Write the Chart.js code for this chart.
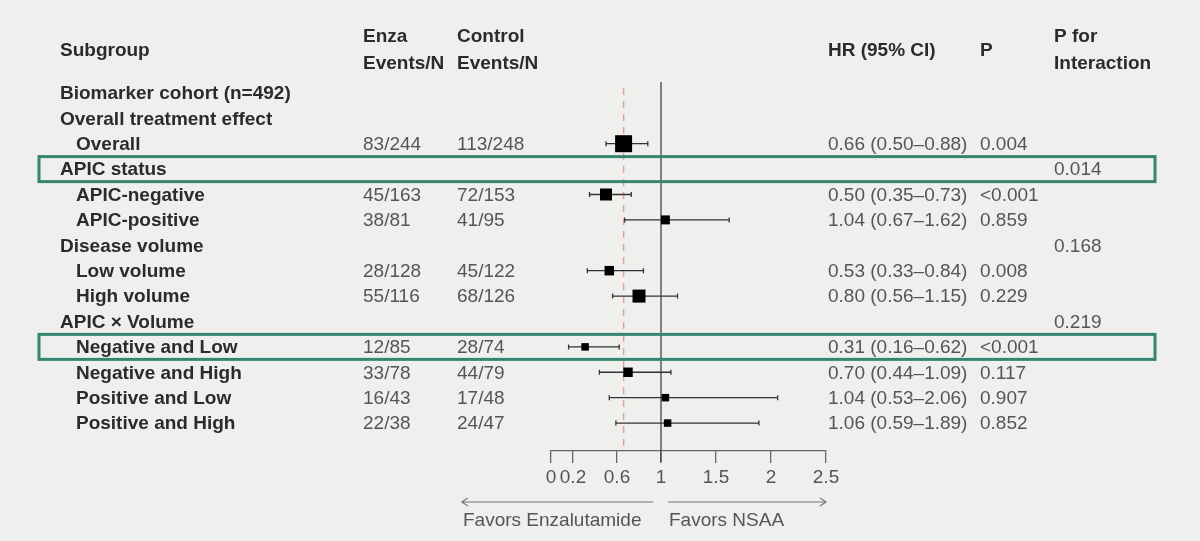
<!DOCTYPE html>
<html>
<head>
<meta charset="utf-8">
<script src="https://cdn.jsdelivr.net/npm/chart.js@4"></script>
<style>
  html, body { margin: 0; padding: 0; background: #efefed; }
  #wrap { width: 1200px; height: 541px; position: relative; }
</style>
</head>
<body>
<div id="wrap"><canvas id="forest" width="1200" height="541"></canvas></div>
<script>
// rows of the table, top to bottom
const subgroups = ['Biomarker cohort (n=492)', 'Overall treatment effect', 'Overall', 'APIC status',
    'APIC-negative', 'APIC-positive', 'Disease volume', 'Low volume', 'High volume', 'APIC × Volume',
    'Negative and Low', 'Negative and High', 'Positive and Low', 'Positive and High'];
const indented = [false, false, true, false, true, true, false, true, true, false, true, true, true, true];
const enzaEvents = ['', '', '83/244', '', '45/163', '38/81', '', '28/128', '55/116', '', '12/85', '33/78', '16/43', '22/38'];
const controlEvents = ['', '', '113/248', '', '72/153', '41/95', '', '45/122', '68/126', '', '28/74', '44/79', '17/48', '24/47'];
const hr = [null, null, 0.66, null, 0.50, 1.04, null, 0.53, 0.80, null, 0.31, 0.70, 1.04, 1.06];
const ciLow = [null, null, 0.50, null, 0.35, 0.67, null, 0.33, 0.56, null, 0.16, 0.44, 0.53, 0.59];
const ciHigh = [null, null, 0.88, null, 0.73, 1.62, null, 0.84, 1.15, null, 0.62, 1.09, 2.06, 1.89];
const pValues = ['', '', '0.004', '', '<0.001', '0.859', '', '0.008', '0.229', '', '<0.001', '0.117', '0.907', '0.852'];
const pInteraction = ['', '', '', '0.014', '', '', '0.168', '', '', '0.219', '', '', '', ''];
const boxSize = [0, 0, 17, 0, 12, 9, 0, 9.5, 13, 0, 7.5, 9.5, 7.5, 7.5]; // square side, px
const xTicks = [0, 0.2, 0.6, 1, 1.5, 2, 2.5];
const highlightRows = [3, 10];

const FONT = "'Liberation Sans', Arial, sans-serif";
const FS = 19;

const points = [];
const radii = [];
hr.forEach((v, i) => {
    if (v === null) return;
    points.push({ x: v, y: i, lo: ciLow[i], hi: ciHigh[i] });
    radii.push(boxSize[i] / Math.SQRT2);
});

function fmt(v) { return v.toFixed(2); }

// background
const bgPlugin = {
    id: 'bg',
    beforeDraw(chart) {
        const c = chart.ctx;
        c.save();
        c.fillStyle = '#efefed';
        c.fillRect(0, 0, chart.width, chart.height);
        c.restore();
    }
};

// reference lines + CI whiskers
const ciPlugin = {
    id: 'ci',
    beforeDatasetsDraw(chart) {
        const c = chart.ctx, xs = chart.scales.x, ys = chart.scales.y, a = chart.chartArea;
        c.save();
        // dashed line at overall HR
        c.strokeStyle = '#e0a49a';
        c.lineWidth = 1.5;
        c.setLineDash([7, 6]);
        c.beginPath();
        c.moveTo(xs.getPixelForValue(hr[2]), a.top + 6);
        c.lineTo(xs.getPixelForValue(hr[2]), a.bottom - 3);
        c.stroke();
        c.setLineDash([]);
        // line of no effect
        c.strokeStyle = '#444';
        c.lineWidth = 1.3;
        c.beginPath();
        c.moveTo(xs.getPixelForValue(1), a.top);
        c.lineTo(xs.getPixelForValue(1), a.bottom + 11);
        c.stroke();
        // whiskers
        c.strokeStyle = '#333';
        c.lineWidth = 1.3;
        points.forEach(p => {
            const y = ys.getPixelForValue(p.y);
            const x1 = xs.getPixelForValue(p.lo), x2 = xs.getPixelForValue(p.hi);
            c.beginPath();
            c.moveTo(x1, y); c.lineTo(x2, y);
            c.moveTo(x1, y - 2.5); c.lineTo(x1, y + 2.5);
            c.moveTo(x2, y - 2.5); c.lineTo(x2, y + 2.5);
            c.stroke();
        });
        c.restore();
    }
};

// table text, highlight boxes, arrows
const tablePlugin = {
    id: 'table',
    afterDraw(chart) {
        const c = chart.ctx, xs = chart.scales.x, ys = chart.scales.y;
        const pitch = ys.getPixelForValue(1) - ys.getPixelForValue(0);
        const y0 = ys.getPixelForValue(0);
        c.save();
        c.textBaseline = 'middle';
        c.textAlign = 'left';

        // headers
        c.fillStyle = '#2b2b2b';
        c.font = 'bold ' + FS + 'px ' + FONT;
        const hTop = y0 - 2.2 * pitch, hBot = y0 - 1.14 * pitch, hMid = (hTop + hBot) / 2;
        c.fillText('Subgroup', 60, hMid);
        c.fillText('Enza', 363, hTop);
        c.fillText('Events/N', 363, hBot);
        c.fillText('Control', 457, hTop);
        c.fillText('Events/N', 457, hBot);
        c.fillText('HR (95% CI)', 828, hMid);
        c.fillText('P', 980, hMid);
        c.fillText('P for', 1054, hTop);
        c.fillText('Interaction', 1054, hBot);

        // highlight boxes
        c.strokeStyle = '#358571';
        c.lineWidth = 3;
        highlightRows.forEach(r => {
            const y = ys.getPixelForValue(r);
            c.strokeRect(39, y - 12.5, 1116, 25);
        });

        subgroups.forEach((s, i) => {
            const y = ys.getPixelForValue(i) + 1;
            c.font = 'bold ' + FS + 'px ' + FONT;
            c.fillStyle = '#2b2b2b';
            c.fillText(s, indented[i] ? 76 : 60, y);
            c.font = FS + 'px ' + FONT;
            c.fillStyle = '#555';
            c.fillText(enzaEvents[i], 363, y);
            c.fillText(controlEvents[i], 457, y);
            if (hr[i] !== null) {
                c.fillText(fmt(hr[i]) + ' (' + fmt(ciLow[i]) + '\u2013' + fmt(ciHigh[i]) + ')', 828, y);
            }
            c.fillText(pValues[i], 980, y);
            c.fillText(pInteraction[i], 1054, y);
        });

        // favors arrows
        const ay = 502;
        const lA = xs.getPixelForValue(-0.81), lB = xs.getPixelForValue(0.93);
        const rA = xs.getPixelForValue(1.065), rB = xs.getPixelForValue(2.5);
        c.strokeStyle = '#777';
        c.lineWidth = 1.2;
        c.beginPath();
        c.moveTo(lB, ay); c.lineTo(lA, ay);
        c.moveTo(lA + 6, ay - 4); c.lineTo(lA, ay); c.lineTo(lA + 6, ay + 4);
        c.moveTo(rA, ay); c.lineTo(rB, ay);
        c.moveTo(rB - 6, ay - 4); c.lineTo(rB, ay); c.lineTo(rB - 6, ay + 4);
        c.stroke();
        c.fillStyle = '#555';
        c.font = FS + 'px ' + FONT;
        c.textAlign = 'left';
        c.fillText('Favors Enzalutamide', 463, 521);
        c.fillText('Favors NSAA', 669, 521);
        c.restore();
    }
};

const ctx = document.getElementById('forest').getContext('2d');

const forestChart = new Chart(ctx, {
    type: 'scatter',
    data: {
        datasets: [{
            label: 'HR',
            data: points,
            pointStyle: 'rect',
            pointRadius: radii,
            pointHoverRadius: radii,
            backgroundColor: '#000',
            borderColor: '#000',
            borderWidth: 0
        }]
    },
    options: {
        responsive: false,
        animation: false,
        events: [],
        layout: { padding: { left: 551, right: 374, top: 82, bottom: 50 } },
        scales: {
            x: {
                type: 'linear',
                min: 0,
                max: 2.5,
                afterBuildTicks: s => { s.ticks = xTicks.map(v => ({ value: v })); },
                afterFit: s => { s.height = 40; },
                grid: { drawOnChartArea: false, drawTicks: true, tickLength: 12, color: '#666', lineWidth: 1.3 },
                border: { display: true, color: '#666', width: 1.3 },
                ticks: {
                    autoSkip: false,
                    maxRotation: 0,
                    padding: 3,
                    color: '#555',
                    font: { size: FS, family: FONT },
                    callback: v => String(v)
                }
            },
            y: {
                type: 'linear',
                reverse: true,
                min: -0.43,
                max: 14.1,
                display: false
            }
        },
        plugins: {
            legend: { display: false },
            tooltip: { enabled: false }
        }
    },
    plugins: [bgPlugin, ciPlugin, tablePlugin]
});
</script>
</body>
</html>
